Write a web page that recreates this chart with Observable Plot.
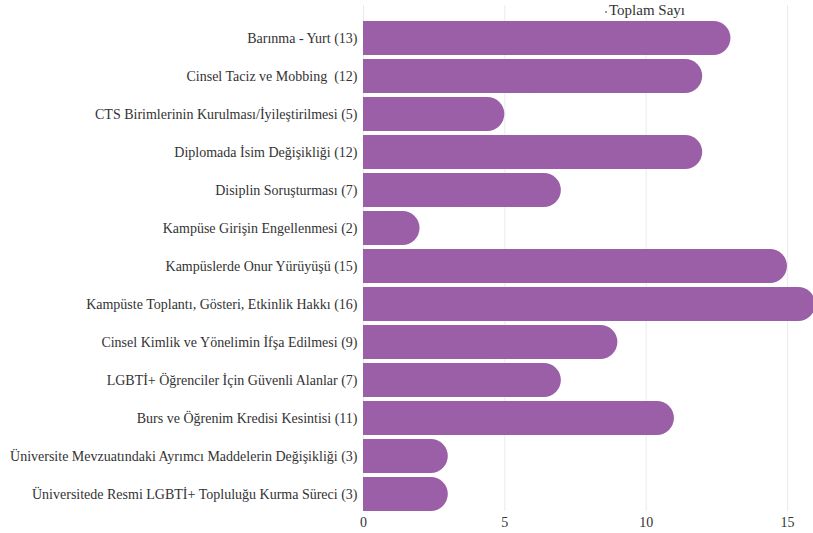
<!DOCTYPE html>
<html>
<head>
<meta charset="utf-8">
<script src="https://cdn.jsdelivr.net/npm/d3@7"></script>
<script src="https://cdn.jsdelivr.net/npm/@observablehq/plot@0.6"></script>
<style>
  body { margin: 0; background: #fff; font-family: "Liberation Serif", "DejaVu Serif", serif; }
  #wrap { position: relative; width: 813px; height: 533px; overflow: hidden; }
  #legend { position: absolute; top: 2px; left: 605px; font-size: 15px; color: #333; white-space: nowrap; }
  #legend .dot { display: inline-block; width: 2px; height: 2px; background: #9b5fa8; border-radius: 1px; vertical-align: middle; margin-right: 2px; }
</style>
</head>
<body>
<div id="wrap">
  <div id="legend"><span class="dot"></span>Toplam Sayı</div>
</div>
<script>
const categories = [
  "Barınma - Yurt (13)",
  "Cinsel Taciz ve Mobbing  (12)",
  "CTS Birimlerinin Kurulması/İyileştirilmesi (5)",
  "Diplomada İsim Değişikliği (12)",
  "Disiplin Soruşturması (7)",
  "Kampüse Girişin Engellenmesi (2)",
  "Kampüslerde Onur Yürüyüşü (15)",
  "Kampüste Toplantı, Gösteri, Etkinlik Hakkı (16)",
  "Cinsel Kimlik ve Yönelimin İfşa Edilmesi (9)",
  "LGBTİ+ Öğrenciler İçin Güvenli Alanlar (7)",
  "Burs ve Öğrenim Kredisi Kesintisi (11)",
  "Üniversite Mevzuatındaki Ayrımcı Maddelerin Değişikliği (3)",
  "Üniversitede Resmi LGBTİ+ Topluluğu Kurma Süreci (3)"
];
const values = [13, 12, 5, 12, 7, 2, 15, 16, 9, 7, 11, 3, 3];
const xTicks = [0, 5, 10, 15];

const data = categories.map((c, i) => ({category: c, value: values[i]}));
const color = "#9b5fa8";

const chart = Plot.plot({
  width: 813,
  height: 533,
  marginTop: 21,
  marginBottom: 22,
  marginLeft: 363,
  marginRight: 26,
  style: {fontFamily: "Liberation Serif, DejaVu Serif, serif", fontSize: "14px", color: "#333", background: "transparent"},
  x: {domain: [0, 15], ticks: xTicks, label: null},
  y: {domain: categories, paddingInner: 0.105, paddingOuter: 0, round: false, label: null},
  marks: [
    Plot.gridX(xTicks, {stroke: "#ebebeb", strokeOpacity: 1, insetTop: -16}),
    Plot.barX(data, {y: "category", x1: 0, x2: "value", fill: color, rx: 17}),
    Plot.barX(data, {y: "category", x1: 0, x2: d => d.value / 2, fill: color}),
    Plot.axisX(xTicks, {tickSize: 0, tickPadding: 6, fontSize: 14, fill: "#333"}),
    Plot.axisY({tickSize: 0, tickPadding: 6, fontSize: 14, fill: "#333"})
  ]
});
document.getElementById("wrap").prepend(chart);
chart.style.position = "absolute";
chart.style.left = "0";
chart.style.top = "0";
</script>
</body>
</html>
